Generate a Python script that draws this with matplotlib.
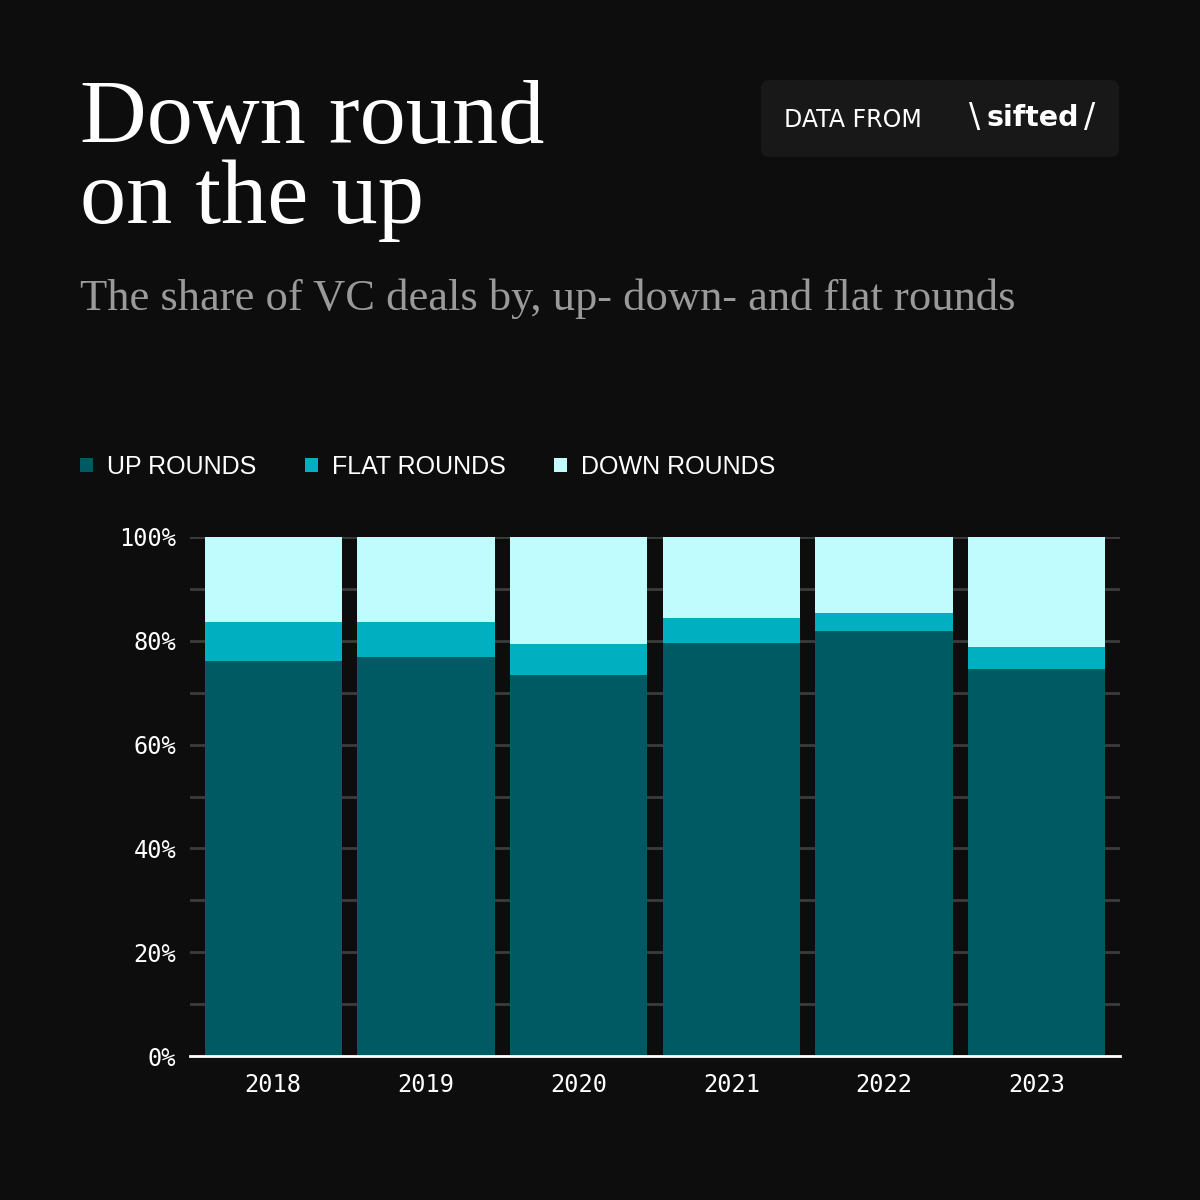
import numpy as np
from matplotlib import pyplot as plt
from matplotlib.patches import FancyBboxPatch

# Data (percent of deals)
years = ['2018', '2019', '2020', '2021', '2022', '2023']
up_rounds = [76.1, 76.9, 73.4, 79.6, 81.9, 74.6]
flat_rounds = [7.5, 6.7, 6.0, 4.8, 3.5, 4.2]
down_rounds = [100 - u - f for u, f in zip(up_rounds, flat_rounds)]

series_names = ['UP ROUNDS', 'FLAT ROUNDS', 'DOWN ROUNDS']
colors = ['#005a64', '#00afc0', '#c0fcfe']
bg = '#0d0d0d'

W = H = 1200


def fx(px):
    return px / W


def fy(py):
    return 1 - py / H


fig = plt.figure(figsize=(12, 12), dpi=100, facecolor=bg)

# Title and subtitle
fig.text(fx(80), fy(143), 'Down round', family='Liberation Serif', fontsize=66.5,
         color='white', va='baseline', ha='left')
fig.text(fx(80), fy(223), 'on the up', family='Liberation Serif', fontsize=66.5,
         color='white', va='baseline', ha='left')
fig.text(fx(80), fy(310), 'The share of VC deals by, up- down- and flat rounds',
         family='Liberation Serif', fontsize=32, color='#9a9a9a', va='baseline', ha='left')

# Source box
box = FancyBboxPatch((fx(761), fy(157)), fx(358), 77 / H, transform=fig.transFigure,
                     boxstyle='round,pad=0,rounding_size=0.007', facecolor='#181818',
                     edgecolor='none')
fig.patches.append(box)
fig.text(fx(784), fy(120), 'DATA FROM', family='DejaVu Sans', fontsize=17,
         color='white', va='center', ha='left')
fig.text(fx(969), fy(118), '\\', family='DejaVu Sans', fontsize=24, color='white',
         va='center', ha='left')
fig.text(fx(987), fy(118), 'sifted', family='DejaVu Sans', fontsize=20.5, fontweight='bold',
         color='white', va='center', ha='left')
fig.text(fx(1084), fy(118), '/', family='DejaVu Sans', fontsize=24, color='white',
         va='center', ha='left')

# Chart
ax = fig.add_axes([fx(190), fy(1056), 930 / W, 519 / H])
ax.set_facecolor(bg)
x = np.arange(len(years))
bottom = np.zeros(len(years))
handles = []
for name, vals, c in zip(series_names, [up_rounds, flat_rounds, down_rounds], colors):
    b = ax.bar(x, vals, width=0.9, bottom=bottom, color=c, label=name, zorder=3)
    handles.append(b)
    bottom += np.array(vals)

ax.set_xlim(-0.545, len(years) - 1 + 0.545)
ax.set_ylim(0, 100)
ax.set_yticks(np.arange(0, 101, 20))
ax.set_yticks(np.arange(0, 101, 10), minor=True)
ax.set_yticklabels([f'{v}%' for v in range(0, 101, 20)])
ax.set_xticks(x)
ax.set_xticklabels(years)
ax.grid(axis='y', which='both', color='#3c3c3c', linewidth=2, zorder=0)
ax.tick_params(axis='both', which='both', length=0, colors='white', labelsize=17)
ax.tick_params(axis='y', pad=10)
ax.tick_params(axis='x', pad=12)
for lab in ax.get_xticklabels() + ax.get_yticklabels():
    lab.set_family('DejaVu Sans Mono')
for side in ['top', 'left', 'right']:
    ax.spines[side].set_visible(False)
ax.spines['bottom'].set_color('white')
ax.spines['bottom'].set_linewidth(2)
ax.spines['bottom'].set_zorder(4)

leg = fig.legend(handles=handles, labels=series_names, loc='center left',
                 bbox_to_anchor=(fx(80), fy(467)), ncol=3, frameon=False,
                 borderpad=0, borderaxespad=0,
                 handlelength=0.52, handleheight=0.52, handletextpad=0.55,
                 columnspacing=1.95, prop={'family': 'Liberation Sans', 'size': 18})
for t in leg.get_texts():
    t.set_color('white')

fig.savefig('out.png', dpi=100, facecolor=bg)
